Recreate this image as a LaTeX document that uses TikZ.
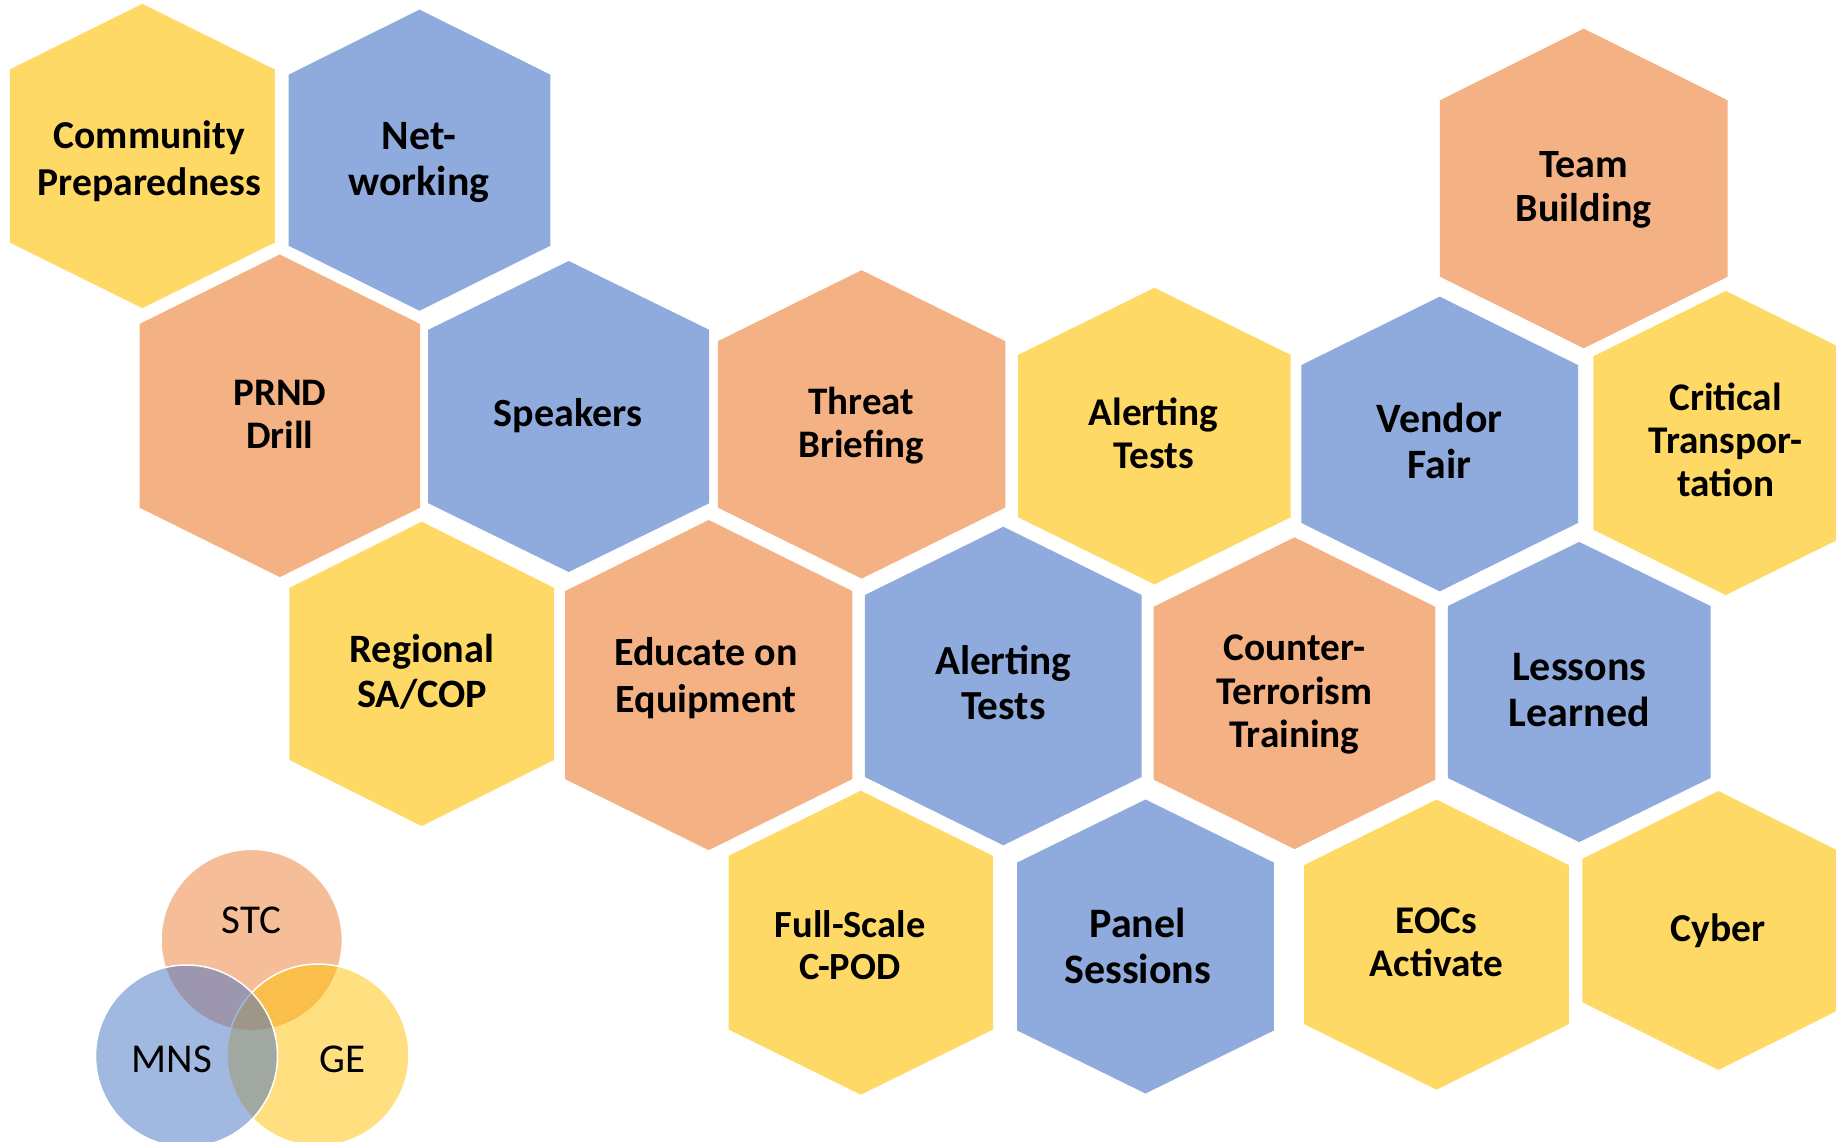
\documentclass[tikz,border=0pt]{standalone}
\usepackage{fontspec}
\setmainfont{Carlito}
\definecolor{hexO}{HTML}{F4B183}
\definecolor{hexB}{HTML}{8FAADC}
\definecolor{hexY}{HTML}{FFD966}
\definecolor{vO}{HTML}{ED7D31}
\definecolor{vB}{HTML}{4472C4}
\definecolor{vY}{HTML}{FFC000}
\newcommand\hexa[6]{\fill[#6] (#1,#2-#4) -- (#1+#3,#2-#5) -- (#1+#3,#2+#5) -- (#1,#2+#4) -- (#1-#3,#2+#5) -- (#1-#3,#2-#5) -- cycle;}
\newcommand\lns[1]{\begin{tabular}[t]{@{}c@{}}#1\end{tabular}}
\newcommand\fs[2]{\fontsize{#1}{#2}\selectfont}
\tikzset{
  lbl/.style={anchor=base, inner sep=0pt, font=\bfseries},
  venn/.style={line width=1.5pt, draw=white, fill opacity=0.5},
  vlbl/.style={anchor=base, inner sep=0pt, font=\fontsize{41}{45}\selectfont}
}
\begin{document}
\begin{tikzpicture}[x=1pt,y=-1pt]
\useasboundingbox (0,0) rectangle (1836,1142);
\clip (0,0) rectangle (1836,1142);
% hexagons: cx, cy, w, H, s, colour
\hexa{142.3}{156}{132.5}{152.2}{86.5}{hexY}
\hexa{419.5}{160.2}{130.9}{150.6}{85.5}{hexB}
\hexa{279.8}{415.8}{140.2}{161.3}{91.9}{hexO}
\hexa{568.7}{416.5}{140.5}{155.5}{86.7}{hexB}
\hexa{861.6}{424.4}{143.8}{154.2}{83.2}{hexO}
\hexa{1154.4}{436.1}{136.3}{148.3}{81.2}{hexY}
\hexa{1583.8}{188.5}{143.9}{159.8}{88.2}{hexO}
\hexa{1439.7}{444}{138.4}{147.4}{78.9}{hexB}
\hexa{1725.7}{443}{132.4}{152.1}{86.7}{hexY}
\hexa{421.7}{673.9}{132.4}{152.2}{86}{hexY}
\hexa{708.7}{685.1}{143.6}{165.1}{94}{hexO}
\hexa{1003.3}{686}{138.4}{159.3}{91}{hexB}
\hexa{1294.5}{693.2}{140.9}{155.9}{86.4}{hexO}
\hexa{1579.2}{692}{131.3}{150.1}{86}{hexB}
\hexa{860.8}{942.7}{132.3}{152}{86.8}{hexY}
\hexa{1145.5}{946.5}{128.3}{147}{84}{hexB}
\hexa{1436.5}{944.6}{132.4}{145.1}{79.5}{hexY}
\hexa{1718.3}{930.5}{136}{139.5}{71.7}{hexY}
% labels
\node[lbl] (comm) at (149.3,148.5) {\fs{39.6}{46.7}\lns{Community\\Preparedness}};
\node[lbl] (net) at (419,149.3) {\fs{41.8}{45.9}\lns{Net-\\working}};
\node[lbl] (prnd) at (279.8,405.7) {\fs{39}{42.8}\lns{PRND\\Drill}};
\node[lbl] (speak) at (567.9,426.7) {\fs{40}{44}\lns{Speakers}};
\node[lbl] (threat) at (861.4,414.5) {\fs{39}{42.8}\lns{Threat\\Briefing}};
\node[lbl] (alertY) at (1153.6,425.6) {\fs{39.3}{43.2}\lns{Alerting\\Tests}};
\node[lbl] (team) at (1583.7,178) {\fs{40.1}{44}\lns{Team\\Building}};
\node[lbl] (vendor) at (1439.7,432.5) {\fs{41.8}{45.9}\lns{Vendor\\Fair}};
\node[lbl] (crit) at (1725.7,410.3) {\fs{39.2}{43}\lns{Critical\\Transpor-\\tation}};
\node[lbl] (region) at (422.1,662.8) {\fs{40.3}{44.2}\lns{Regional\\SA/COP}};
\node[lbl] (educ) at (706,665.1) {\fs{40}{47.6}\lns{Educate on\\Equipment}};
\node[lbl] (alertB) at (1003.3,674.4) {\fs{41.3}{45.3}\lns{Alerting\\Tests}};
\node[lbl] (counter) at (1294.5,660.9) {\fs{39.3}{43.2}\lns{Counter-\\Terrorism\\Training}};
\node[lbl] (lessons) at (1579.3,680.1) {\fs{42}{46.1}\lns{Lessons\\Learned}};
\node[lbl] (full) at (850.2,937.3) {\fs{38.4}{42.2}\lns{Full-Scale\\C-POD}};
\node[lbl] (panel) at (1137.8,937.3) {\fs{42}{46.1}\lns{Panel\\Sessions}};
\node[lbl] (eocs) at (1436.4,933.5) {\fs{39.2}{43}\lns{EOCs\\Activate}};
\node[lbl] (cyber) at (1718.2,941.7) {\fs{39.6}{43.5}\lns{Cyber}};
% venn
\path[venn, fill=vO] (251.7,940) circle[radius=90.7];
\path[venn, fill=vY] (318,1055) circle[radius=91];
\path[venn, fill=vB] (186.5,1056) circle[radius=91];
\node[vlbl] (stc) at (251.7,933.3) {STC};
\node[vlbl] (mns) at (171.7,1072.3) {MNS};
\node[vlbl] (ge) at (342.2,1072.3) {GE};
\end{tikzpicture}
\end{document}
